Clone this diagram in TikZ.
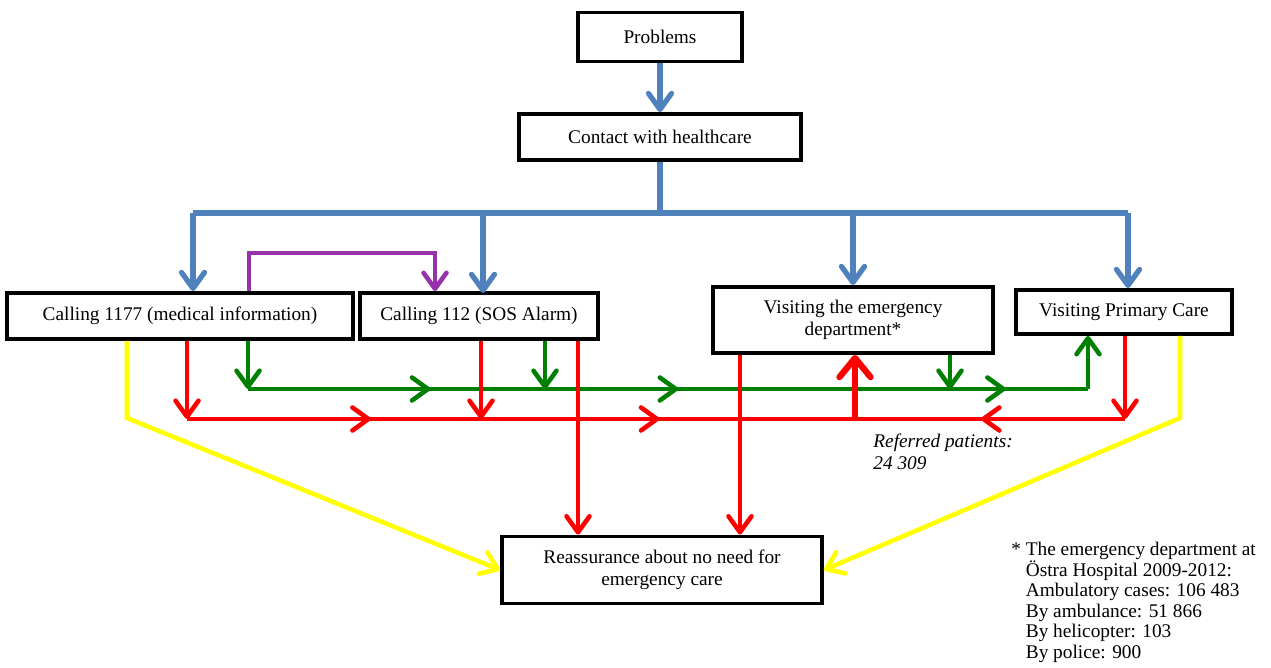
\documentclass[tikz,border=0pt]{standalone}
\usepackage{fontspec}
\setmainfont{Liberation Serif}
\usetikzlibrary{arrows.meta,decorations.markings}

\definecolor{flowblue}{RGB}{79,129,189}
\definecolor{flowpurple}{RGB}{150,50,170}
\definecolor{flowgreen}{RGB}{0,128,0}
\definecolor{flowred}{RGB}{255,0,0}
\definecolor{flowyellow}{RGB}{255,255,0}

\begin{document}
\begin{tikzpicture}[x=0.02cm,y=-0.02cm,
    >={Straight Barb[length=0.32cm,width=0.46cm,round]},
    box/.style={draw,line width=2.2pt,fill=white,align=center,inner sep=2pt,
        font=\fontsize{11}{12.5}\selectfont},
    blueline/.style={draw=flowblue,line width=3pt},
    purpleline/.style={draw=flowpurple,line width=2.6pt},
    greenline/.style={draw=flowgreen,line width=2.6pt},
    redline/.style={draw=flowred,line width=2.6pt},
    yellowline/.style={draw=flowyellow,line width=2.6pt},
    midarrows/.style={postaction={decorate},decoration={markings,#1}}]
    \useasboundingbox (0,0) rectangle (1271,668);

    % boxes
    \node[box,minimum width=3.28cm,minimum height=0.98cm] (prob) at (660,37) {Problems};
    \node[box,minimum width=5.64cm,minimum height=0.92cm] (contact) at (660,137) {Contact with healthcare};
    \node[box,minimum width=6.92cm,minimum height=0.92cm] (c1177) at (180,316) {Calling 1177 (medical information)};
    \node[box,minimum width=4.76cm,minimum height=0.92cm] (c112) at (479,316) {Calling 112 (SOS Alarm)};
    \node[box,minimum width=5.6cm,minimum height=1.32cm] (ed) at (853,320) {Visiting the emergency\\department*};
    \node[box,minimum width=4.32cm,minimum height=0.88cm] (pc) at (1124,312) {Visiting Primary Care};
    \node[box,minimum width=6.4cm,minimum height=1.34cm] (reass) at (662,570) {Reassurance about no need for\\emergency care};

    % blue tree
    \coordinate (bl) at (193,213);
    \coordinate (br) at (1128,213);
    \draw[blueline,->] (prob) -- (contact);
    \draw[blueline] (contact.south) -- (contact.south |- bl);
    \draw[blueline] (bl) -- (br);
    \draw[blueline,->] (bl) -- (bl |- c1177.north);
    \draw[blueline,->] (483,213) -- (483,293);
    \draw[blueline,->] (ed.north |- bl) -- (ed.north);
    \draw[blueline,->] (br) -- (br |- pc.north);

    % purple
    \coordinate (p1) at (249,253);
    \coordinate (p2) at (435,253);
    \draw[purpleline,->] (p1 |- c1177.north) -- (p1) -- (p2) -- (p2 |- c112.north);

    % yellow
    \coordinate (y1) at (127,418);
    \coordinate (y2) at (1180,418);
    \draw[yellowline,->] (y1 |- c1177.south) -- (y1) -- (reass.west);
    \draw[yellowline,->] (y2 |- pc.south) -- (y2) -- (reass.east);

    % green
    \coordinate (g1) at (248,389);
    \coordinate (g2) at (545,389);
    \coordinate (g3) at (950,389);
    \coordinate (g4) at (1088,389);
    \draw[greenline,->] (g1 |- c1177.south) -- (g1);
    \draw[greenline,->] (g2 |- c112.south) -- (g2);
    \draw[greenline,->] (g3 |- ed.south) -- (g3);
    \draw[greenline,midarrows={mark=at position 0.217 with {\arrow{>}},
        mark=at position 0.512 with {\arrow{>}},
        mark=at position 0.902 with {\arrow{>}}}] (g1) -- (g4);
    \draw[greenline,->] (g4) -- (g4 |- pc.south);

    % red
    \coordinate (r1) at (187,419);
    \coordinate (r2) at (481,419);
    \coordinate (rm) at (855,419);
    \coordinate (r3) at (1125,419);
    \coordinate (r4) at (578,0);
    \coordinate (r5) at (740,0);
    \draw[redline,->] (r1 |- c1177.south) -- (r1);
    \draw[redline,->] (r2 |- c112.south) -- (r2);
    \draw[redline,->] (r3 |- pc.south) -- (r3);
    \draw[redline,midarrows={mark=at position 0.275 with {\arrow{>}},
        mark=at position 0.707 with {\arrow{>}}}] (r1) -- (rm);
    \draw[redline,midarrows={mark=at position 0.533 with {\arrow{>}}}] (r3) -- (rm);
    \draw[redline,line width=3.6pt,-{Straight Barb[length=0.38cm,width=0.62cm,round]}] (rm) -- (rm |- ed.south);
    \draw[redline,->] (r4 |- c112.south) -- (r4 |- reass.north);
    \draw[redline,->] (r5 |- ed.south) -- (r5 |- reass.north);

    % notes
    \node[anchor=north west,align=left,inner sep=0pt,font=\fontsize{11}{12.5}\selectfont\itshape] (referred) at (873,434) {Referred patients:\\24 309};
    \node[anchor=north west,align=left,inner sep=0pt,font=\fontsize{11}{11.7}\selectfont] (footnote) at (1011,542) {* The emergency department at\\
        \hphantom{*~}Östra Hospital 2009-2012:\\
        \hphantom{*~}Ambulatory cases: 106 483\\
        \hphantom{*~}By ambulance: 51 866\\
        \hphantom{*~}By helicopter: 103\\
        \hphantom{*~}By police: 900};
\end{tikzpicture}
\end{document}
